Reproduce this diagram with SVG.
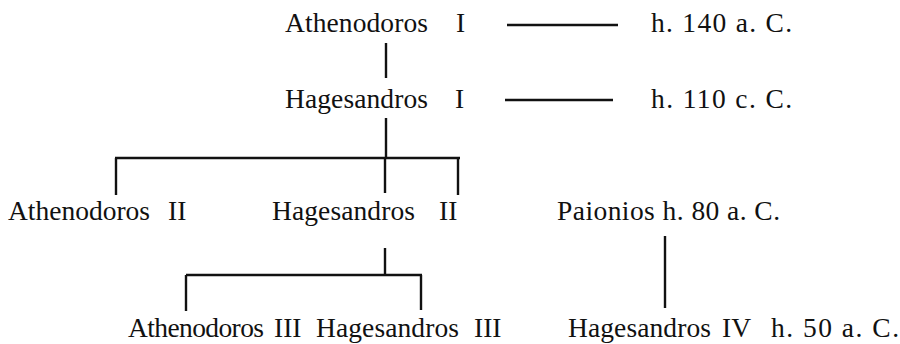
<svg xmlns="http://www.w3.org/2000/svg" width="900" height="344" viewBox="0 0 900 344">
  <style>
    text { font-family: "Liberation Serif", "DejaVu Serif", serif; font-size: 27.5px; fill: #111; }
    .ln { stroke: #111; stroke-width: 2.4; fill: none; stroke-linecap: butt; }
  </style>
  <rect width="900" height="344" fill="#fff"/>

  <g id="connectors">
    <!-- date rules -->
    <line class="ln" x1="507" y1="25" x2="618" y2="25"/>
    <line class="ln" x1="505" y1="100" x2="613" y2="100"/>
    <!-- Athenodoros I to Hagesandros I -->
    <line class="ln" x1="386" y1="43" x2="386" y2="78"/>
    <!-- Hagesandros I to its sons -->
    <line class="ln" x1="386" y1="118" x2="386" y2="158"/>
    <line class="ln" x1="115" y1="158" x2="460" y2="158"/>
    <line class="ln" x1="116" y1="158" x2="116" y2="195"/>
    <line class="ln" x1="385" y1="158" x2="385" y2="193"/>
    <line class="ln" x1="458" y1="158" x2="458" y2="195"/>
    <!-- Hagesandros II to its sons -->
    <line class="ln" x1="385" y1="248" x2="385" y2="275"/>
    <line class="ln" x1="186" y1="275" x2="422" y2="275"/>
    <line class="ln" x1="186" y1="275" x2="186" y2="311"/>
    <line class="ln" x1="421" y1="275" x2="421" y2="310"/>
    <!-- Paionios to Hagesandros IV -->
    <line class="ln" x1="665" y1="236" x2="665" y2="308"/>
  </g>

  <g id="athenodoros-1">
    <text x="285" y="32" textLength="143" lengthAdjust="spacing">Athenodoros</text>
    <text x="456" y="32">I</text>
  </g>
  <g id="date-1">
    <text x="651" y="32" textLength="141" lengthAdjust="spacing">h. 140 a. C.</text>
  </g>
  <g id="hagesandros-1">
    <text x="285" y="108" textLength="143" lengthAdjust="spacing">Hagesandros</text>
    <text x="455" y="108">I</text>
  </g>
  <g id="date-2">
    <text x="651" y="108" textLength="141" lengthAdjust="spacing">h. 110 c. C.</text>
  </g>
  <g id="athenodoros-2">
    <text x="8" y="220" textLength="142" lengthAdjust="spacing">Athenodoros</text>
    <text x="168" y="220">II</text>
  </g>
  <g id="hagesandros-2">
    <text x="272" y="220" textLength="143" lengthAdjust="spacing">Hagesandros</text>
    <text x="439" y="220">II</text>
  </g>
  <g id="paionios">
    <text x="557" y="220" textLength="223" lengthAdjust="spacing">Paionios h. 80 a. C.</text>
  </g>
  <g id="athenodoros-3">
    <text x="128" y="337" textLength="136" lengthAdjust="spacing">Athenodoros</text>
    <text x="274" y="337">III</text>
  </g>
  <g id="hagesandros-3">
    <text x="316" y="337" textLength="143" lengthAdjust="spacing">Hagesandros</text>
    <text x="474" y="337">III</text>
  </g>
  <g id="hagesandros-4">
    <text x="568" y="337" textLength="143" lengthAdjust="spacing">Hagesandros</text>
    <text x="722" y="337">IV</text>
    <text x="771" y="337" textLength="128" lengthAdjust="spacing">h. 50 a. C.</text>
  </g>
</svg>
